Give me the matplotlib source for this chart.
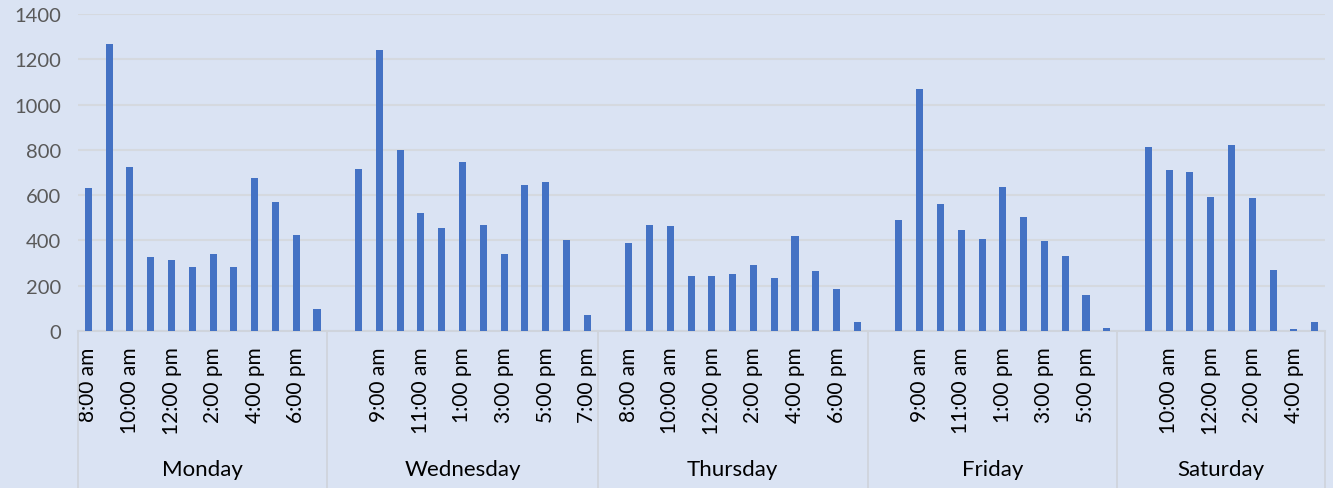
import matplotlib
matplotlib.use("Agg")
import matplotlib.pyplot as plt
import matplotlib.transforms as mtransforms

# hourly visitor counts per day
days = ["Monday", "Wednesday", "Thursday", "Friday", "Saturday"]

monday_hours = ["8:00 am", "9:00 am", "10:00 am", "11:00 am", "12:00 pm", "1:00 pm",
                "2:00 pm", "3:00 pm", "4:00 pm", "5:00 pm", "6:00 pm", "7:00 pm"]
monday_values = [633, 1269, 726, 327, 312, 283, 342, 281, 676, 568, 425, 99]

wednesday_hours = ["8:00 am", "9:00 am", "10:00 am", "11:00 am", "12:00 pm", "1:00 pm",
                   "2:00 pm", "3:00 pm", "4:00 pm", "5:00 pm", "6:00 pm", "7:00 pm"]
wednesday_values = [715, 1241, 801, 520, 456, 745, 467, 339, 646, 657, 403, 72]

thursday_hours = ["8:00 am", "9:00 am", "10:00 am", "11:00 am", "12:00 pm", "1:00 pm",
                  "2:00 pm", "3:00 pm", "4:00 pm", "5:00 pm", "6:00 pm", "7:00 pm"]
thursday_values = [387, 467, 464, 244, 244, 253, 291, 236, 422, 266, 185, 41]

friday_hours = ["8:00 am", "9:00 am", "10:00 am", "11:00 am", "12:00 pm", "1:00 pm",
                "2:00 pm", "3:00 pm", "4:00 pm", "5:00 pm", "6:00 pm"]
friday_values = [489, 1069, 561, 448, 408, 637, 506, 397, 330, 158, 13]

saturday_hours = ["9:00 am", "10:00 am", "11:00 am", "12:00 pm", "1:00 pm",
                  "2:00 pm", "3:00 pm", "4:00 pm", "5:00 pm"]
saturday_values = [811, 712, 701, 593, 823, 589, 271, 7, 38]

y_ticks = [0, 200, 400, 600, 800, 1000, 1200, 1400]

day_hours = [monday_hours, wednesday_hours, thursday_hours, friday_hours, saturday_hours]
day_values = [monday_values, wednesday_values, thursday_values, friday_values, saturday_values]

BG = "#DAE3F3"
BAR = "#4472C4"
GRID = "#D5D9DF"
LINE = "#CFD4DC"

plt.rcParams["font.family"] = ["Lato", "DejaVu Sans"]

fig = plt.figure(figsize=(13.33, 4.89), dpi=100, facecolor=BG)
ax = fig.add_axes([0.0585, 0.321, 0.9355, 0.648])
ax.set_facecolor(BG)

# build category slots: an empty slot opens every day after the first
labels = []
xs = []
vals = []
groups = []
pos = 0
for d, (hours, values) in enumerate(zip(day_hours, day_values)):
    start = pos
    if d > 0:
        labels.append("")
        pos += 1
    for h, v in zip(hours, values):
        labels.append(h)
        xs.append(pos)
        vals.append(v)
        pos += 1
    groups.append((start, pos))

ax.bar(xs, vals, width=0.34, color=BAR, zorder=3)

ax.set_xlim(-0.5, pos - 0.5)
ax.set_ylim(0, 1400)
ax.set_yticks(y_ticks)
ax.yaxis.grid(True, color=GRID, linewidth=1.5, zorder=0)
ax.tick_params(axis="y", length=0, labelsize=14.5, labelcolor="#595959", pad=12)

shown = [i for i in range(len(labels)) if i % 2 == 0]
ax.set_xticks(shown)
ax.set_xticklabels([labels[i] for i in shown], rotation=90, fontsize=15, color="#000000")
ax.tick_params(axis="x", length=0, pad=11)

for s in ["top", "right", "left"]:
    ax.spines[s].set_visible(False)
ax.spines["bottom"].set_color(LINE)
ax.spines["bottom"].set_linewidth(1.5)

# multi-level category axis: day names and separators
trans = mtransforms.blended_transform_factory(ax.transData, ax.transAxes)
for (start, end), day in zip(groups, days):
    ax.text((start + end - 1) / 2, -0.435, day, transform=trans,
            ha="center", va="center", fontsize=16, color="#000000")
    ax.plot([start - 0.5, start - 0.5], [0, -0.5], transform=trans,
            color=LINE, linewidth=1.3, clip_on=False)
ax.plot([pos - 0.5, pos - 0.5], [0, -0.5], transform=trans,
        color=LINE, linewidth=1.3, clip_on=False)

fig.savefig("out.png", dpi=100, facecolor=BG)
